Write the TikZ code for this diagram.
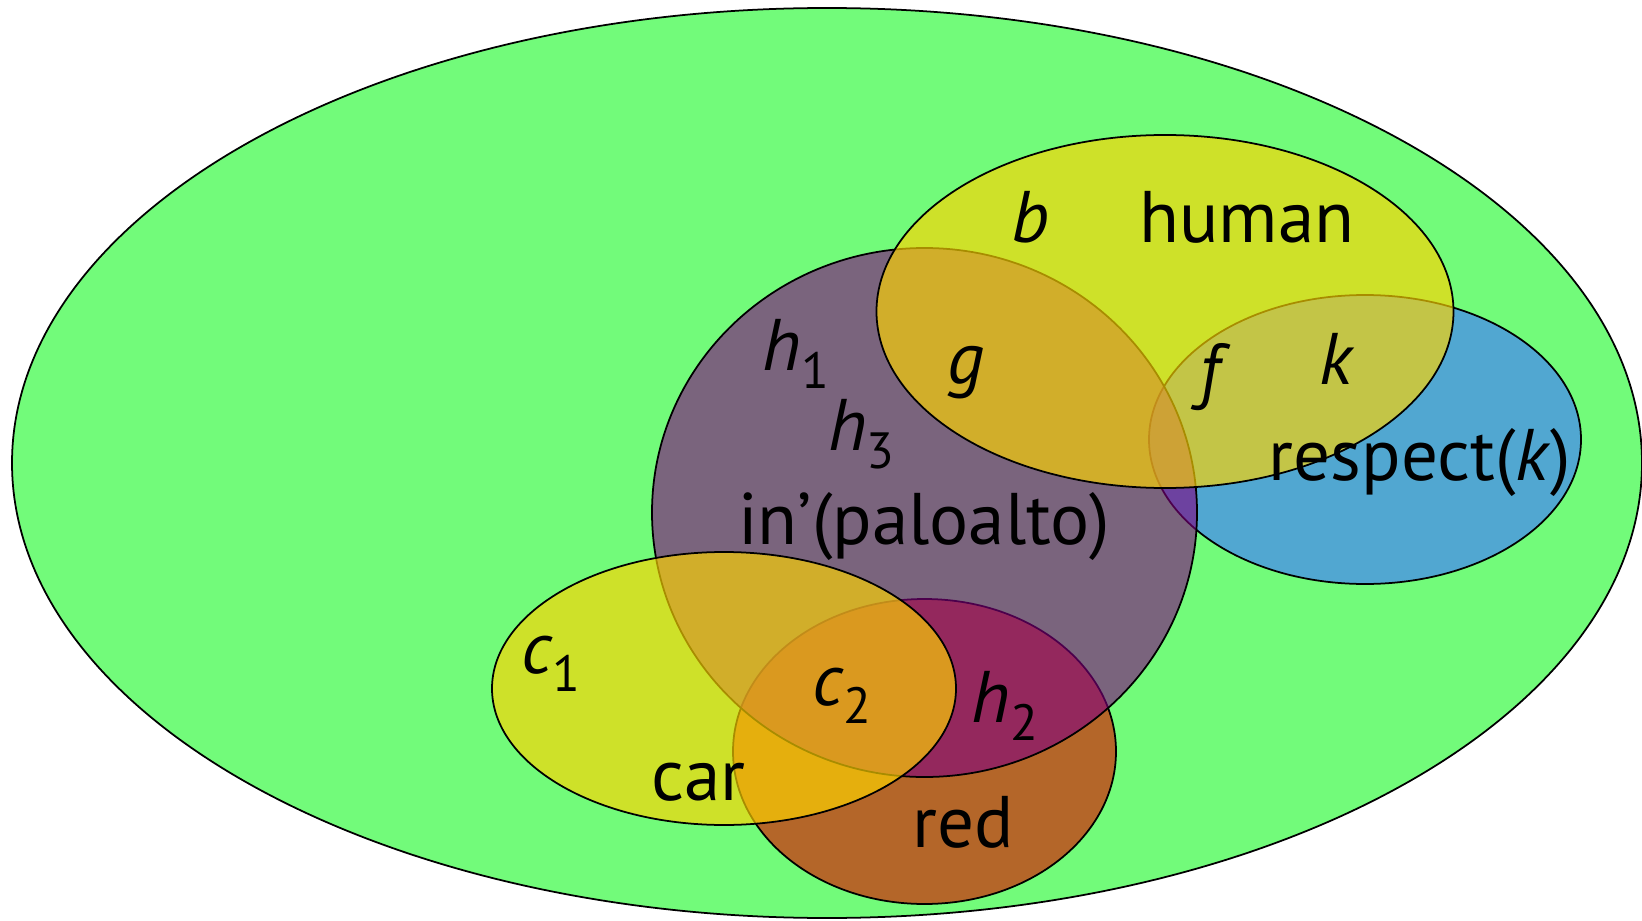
\documentclass[tikz,border=0pt]{standalone}
\usepackage{fontspec}
\setmainfont{PT Sans}
\usepackage{xcolor}
\usepackage{tikz}
\usetikzlibrary{shapes.geometric}
\definecolor{bggreen}{RGB}{114,251,122}
\definecolor{setyellow}{RGB}{255,213,0}
\definecolor{setpurple}{RGB}{128,0,128}
\definecolor{setblue}{RGB}{65,125,255}
\definecolor{setred}{RGB}{215,25,0}
\newcommand{\ivar}[2]{\textit{#1}\raisebox{-0.25em}{\fontsize{14.5}{14.5}\selectfont #2}}

\begin{document}
\begin{tikzpicture}[
    set/.style={ellipse, draw=black, line width=0.5pt, inner sep=0pt, fill opacity=0.66},
    lbl/.style={anchor=base, inner sep=0pt, font=\fontsize{20.8}{24}\selectfont},
]
    \useasboundingbox (0,0) rectangle (16.42,9.2);

    % domain and sets, back to front
    \node[set, fill=bggreen, fill opacity=1, minimum width=16.30cm, minimum height=9.10cm] (dom) at (8.27,4.57) {};
    \node[set, fill=setred, minimum width=3.83cm, minimum height=3.05cm] (red) at (9.245,1.685) {};
    \node[set, fill=setblue, minimum width=4.32cm, minimum height=2.89cm] (resp) at (13.65,4.805) {};
    \node[set, fill=setpurple, fill opacity=0.6, minimum width=5.45cm, minimum height=5.29cm] (pa) at (9.245,4.075) {};
    \node[set, fill=setyellow, minimum width=4.64cm, minimum height=2.73cm] (car) at (7.24,2.315) {};
    \node[set, fill=setyellow, minimum width=5.77cm, minimum height=3.53cm] (human) at (11.65,6.085) {};

    % labels
    \node[lbl] (b) at (10.31,6.77) {\textit{b}};
    \node[lbl] (humanlbl) at (12.47,6.77) {human};
    \node[lbl] (h1) at (7.96,5.50) {\ivar{h}{1}};
    \node[lbl] (g) at (9.655,5.37) {\textit{g}};
    \node[lbl] (f) at (12.15,5.25) {\textit{f}};
    \node[lbl] (k) at (13.37,5.35) {\textit{k}};
    \node[lbl] (h3) at (8.615,4.70) {\ivar{h}{3}};
    \node[lbl] (respect) at (14.20,4.40) {respect(\textit{k})};
    \node[lbl] (palo) at (9.24,3.76) {in’(paloalto)};
    \node[lbl] (c1) at (5.51,2.47) {\ivar{c}{1}};
    \node[lbl] (c2) at (8.42,2.15) {\ivar{c}{2}};
    \node[lbl] (h2) at (10.05,1.98) {\ivar{h}{2}};
    \node[lbl] (carlbl) at (6.985,1.20) {car};
    \node[lbl] (redlbl) at (9.63,0.73) {red};
\end{tikzpicture}
\end{document}
